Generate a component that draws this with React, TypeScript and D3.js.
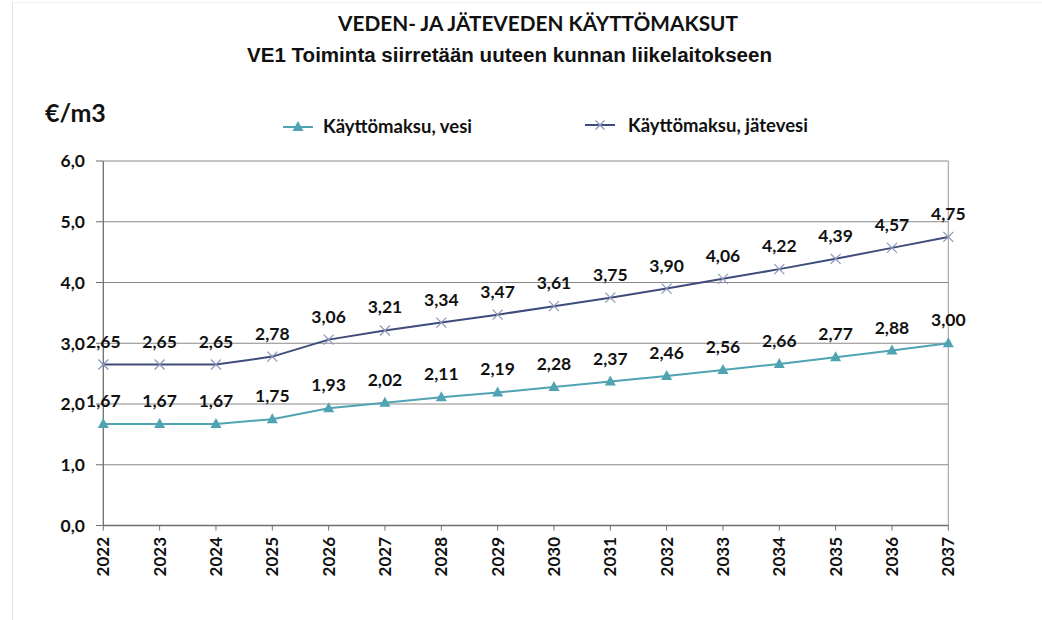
import React from "react";
import * as d3 from "d3";

const years = [2022, 2023, 2024, 2025, 2026, 2027, 2028, 2029, 2030, 2031, 2032, 2033, 2034, 2035, 2036, 2037];
const vesi = [1.67, 1.67, 1.67, 1.75, 1.93, 2.02, 2.11, 2.19, 2.28, 2.37, 2.46, 2.56, 2.66, 2.77, 2.88, 3.0];
const jatevesi = [2.65, 2.65, 2.65, 2.78, 3.06, 3.21, 3.34, 3.47, 3.61, 3.75, 3.9, 4.06, 4.22, 4.39, 4.57, 4.75];
const yTicks = [0, 1, 2, 3, 4, 5, 6];
const seriesNames = ["Käyttömaksu, vesi", "Käyttömaksu, jätevesi"];
const title = "VEDEN- JA JÄTEVEDEN KÄYTTÖMAKSUT";
const subtitle = "VE1 Toiminta siirretään uuteen kunnan liikelaitokseen";
const yUnit = "€/m3";

const W = 1042;
const H = 620;
const FONT = "Lato, 'Open Sans', sans-serif";
const VESI_COLOR = "#4FA3B2";
const JATE_COLOR = "#3E4C7C";
const JATE_MARK = "#8C95B8";

const fmt = (v: number) => d3.format(".2f")(v).replace(".", ",");
const fmt1 = (v: number) => d3.format(".1f")(v).replace(".", ",");

function Triangle({ x, y, s, color }: { x: number; y: number; s: number; color: string }) {
  const p = d3.path();
  p.moveTo(x, y - s * 0.6);
  p.lineTo(x + s * 0.55, y + s * 0.4);
  p.lineTo(x - s * 0.55, y + s * 0.4);
  p.closePath();
  return <path d={p.toString()} fill={color} />;
}

function Cross({ x, y, s, color }: { x: number; y: number; s: number; color: string }) {
  return (
    <g stroke={color} strokeWidth={1.2}>
      <line x1={x - s} y1={y - s} x2={x + s} y2={y + s} />
      <line x1={x - s} y1={y + s} x2={x + s} y2={y - s} />
    </g>
  );
}

export default function App() {
  const x = d3.scaleLinear().domain([years[0], years[years.length - 1]]).range([103.3, 948.3]);
  const y = d3.scaleLinear().domain([0, 6]).range([525.5, 161]);

  const line = d3
    .line<number>()
    .x((_, i) => x(years[i]))
    .y((d) => y(d));

  const left = x.range()[0];
  const right = x.range()[1];
  const top = y(6);
  const bottom = y(0);

  return (
    <svg
      width={W}
      height={H}
      style={{ position: "absolute", left: 0, top: 0, background: "#fff" }}
      fontFamily={FONT}
    >
      <rect x={0} y={0} width={W} height={H} fill="#fff" />
      {/* frame */}
      <line x1={12.5} y1={2} x2={12.5} y2={H} stroke="#e2e2e2" strokeWidth={1} />
      <line x1={12.5} y1={2.5} x2={W} y2={2.5} stroke="#f0f0f0" strokeWidth={1} />

      {/* titles */}
      <text
        x={538}
        y={31}
        textAnchor="middle"
        fontWeight={700}
        fontSize={21}
        textLength={400}
        lengthAdjust="spacingAndGlyphs"
        fill="#111"
      >
        {title}
      </text>
      <text
        x={509.5}
        y={62}
        textAnchor="middle"
        fontWeight={700}
        fontSize={20}
        fontFamily="'Liberation Sans', Arial, sans-serif"
        textLength={525}
        lengthAdjust="spacingAndGlyphs"
        fill="#111"
      >
        {subtitle}
      </text>

      {/* y unit */}
      <text x={45} y={122} fontWeight={700} fontSize={25} fill="#111">
        {yUnit}
      </text>

      {/* legend */}
      <g>
        <line x1={283} x2={313} y1={127} y2={127} stroke={VESI_COLOR} strokeWidth={2} />
        <Triangle x={298} y={127} s={10} color={VESI_COLOR} />
        <text x={323} y={133} fontWeight={700} fontSize={18.5} fill="#111">
          {seriesNames[0]}
        </text>
        <line x1={585} x2={615} y1={125} y2={125} stroke={JATE_COLOR} strokeWidth={2} />
        <Cross x={600} y={125} s={4.5} color={JATE_MARK} />
        <text x={628} y={132} fontWeight={700} fontSize={18.5} fill="#111">
          {seriesNames[1]}
        </text>
      </g>

      {/* grid */}
      {yTicks.map((t) => (
        <g key={t}>
          {t > 0 && (
            <line x1={left} x2={right} y1={y(t)} y2={y(t)} stroke="#8a8a8a" strokeWidth={1} />
          )}
          <line x1={96} x2={left} y1={y(t)} y2={y(t)} stroke="#6e6e6e" strokeWidth={1} />
          <text
            x={85}
            y={y(t)}
            dy="0.36em"
            textAnchor="end"
            fontWeight={700}
            fontSize={17.5}
            fill="#111"
          >
            {fmt1(t)}
          </text>
        </g>
      ))}
      <line x1={right} x2={right} y1={top} y2={bottom} stroke="#9a9a9a" strokeWidth={1} />
      <line x1={left} x2={left} y1={top} y2={bottom} stroke="#6e6e6e" strokeWidth={1.3} />
      <line x1={left} x2={right} y1={bottom} y2={bottom} stroke="#6e6e6e" strokeWidth={1.3} />

      {/* x ticks */}
      {years.map((yr) => (
        <g key={yr}>
          <line x1={x(yr)} x2={x(yr)} y1={bottom} y2={bottom + 5} stroke="#6e6e6e" strokeWidth={1} />
          <text
            transform={`translate(${x(yr)},${537}) rotate(-90)`}
            dy="0.36em"
            textAnchor="end"
            fontWeight={700}
            fontSize={17}
            fill="#111"
          >
            {yr}
          </text>
        </g>
      ))}

      {/* lines */}
      <path d={line(vesi) || ""} fill="none" stroke={VESI_COLOR} strokeWidth={2} />
      <path d={line(jatevesi) || ""} fill="none" stroke={JATE_COLOR} strokeWidth={2} />

      {vesi.map((v, i) => (
        <Triangle key={"tv" + i} x={x(years[i])} y={y(v)} s={10} color={VESI_COLOR} />
      ))}
      {jatevesi.map((v, i) => (
        <Cross key={"cj" + i} x={x(years[i])} y={y(v)} s={5} color={JATE_MARK} />
      ))}

      {/* labels */}
      {[vesi, jatevesi].map((series, si) =>
        series.map((v, i) => (
          <text
            key={"l" + si + "_" + i}
            x={x(years[i])}
            y={y(v) - 17}
            textAnchor="middle"
            fontWeight={700}
            fontSize={17.5}
            fill="#111"
          >
            {fmt(v)}
          </text>
        ))
      )}
    </svg>
  );
}
